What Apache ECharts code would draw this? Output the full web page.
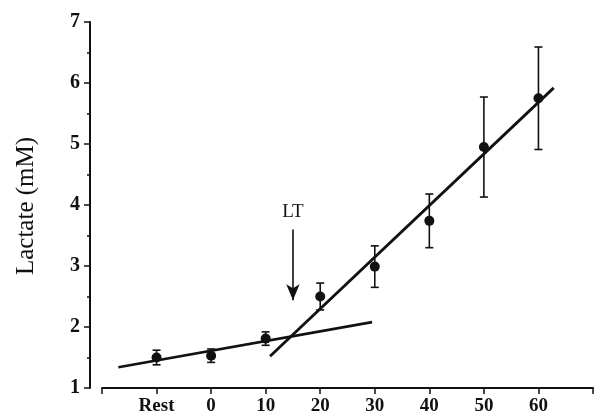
<!DOCTYPE html>
<html>
<head>
<meta charset="utf-8">
<script src="https://cdn.jsdelivr.net/npm/echarts@6/dist/echarts.min.js"></script>
<style>
  html, body { margin: 0; padding: 0; background: #fff; }
  #chart { width: 597px; height: 420px; }
</style>
</head>
<body>
<div id="chart"></div>
<script>
// x positions (Rest is plotted one step before 0)
const stageX = [-10, 0, 10, 20, 30, 40, 50, 60];
const stageLabels = ['Rest', '0', '10', '20', '30', '40', '50', '60'];
// mean lactate (mM) and error (+/-)
const lactateMean = [1.5, 1.53, 1.81, 2.5, 2.99, 3.74, 4.95, 5.75];
const lactateErr = [0.12, 0.11, 0.11, 0.22, 0.34, 0.44, 0.82, 0.84];
// fitted lines, end points [x, y]
const lowFit = [[-17, 1.34], [29.5, 2.08]];
const highFit = [[10.8, 1.52], [62.8, 5.92]];
// lactate threshold arrow
const ltX = 15;
const ltArrow = [3.6, 2.44];
const ltLabelY = 3.88;

const chartDom = document.getElementById('chart');
const myChart = echarts.init(chartDom);

const font = 'Liberation Serif, Times New Roman, serif';

const points = stageX.map((x, i) => [x, lactateMean[i], lactateErr[i]]);

const option = {
    animation: false,
    backgroundColor: '#fff',
    grid: { left: 102, right: 4, top: 22, bottom: 32 },
    xAxis: {
        type: 'value',
        min: -20,
        max: 70,
        interval: 10,
        axisLine: { onZero: false, lineStyle: { color: '#111', width: 2 } },
        axisTick: { length: 6, lineStyle: { color: '#111', width: 1.5 } },
        splitLine: { show: false },
        axisLabel: {
            margin: 9,
            color: '#111',
            fontFamily: font,
            fontWeight: 'bold',
            fontSize: 19,
            formatter: (v) => {
                const i = stageX.indexOf(v);
                return i >= 0 ? stageLabels[i] : '';
            }
        }
    },
    yAxis: {
        type: 'value',
        min: 1,
        max: 7,
        interval: 1,
        offset: 12,
        axisLine: { show: true, onZero: false, lineStyle: { color: '#111', width: 2 } },
        axisTick: { length: 6, lineStyle: { color: '#111', width: 1.5 } },
        minorTick: { show: true, splitNumber: 2, length: 3, lineStyle: { color: '#111', width: 1.5 } },
        splitLine: { show: false },
        axisLabel: {
            margin: 10,
            color: '#111',
            fontFamily: font,
            fontWeight: 'bold',
            fontSize: 20
        }
    },
    graphic: [{
        type: 'text',
        rotation: Math.PI / 2,
        position: [26, 206],
        style: {
            text: 'Lactate (mM)',
            fontFamily: font,
            fontSize: 25,
            fill: '#111',
            align: 'center',
            verticalAlign: 'middle'
        }
    }],
    series: [
        {
            type: 'custom',
            data: points,
            renderItem: (params, api) => {
                const x = api.value(0), y = api.value(1), e = api.value(2);
                const top = api.coord([x, y + e]);
                const bot = api.coord([x, y - e]);
                const w = 4;
                const st = { stroke: '#111', lineWidth: 1.6 };
                return {
                    type: 'group',
                    children: [
                        { type: 'line', shape: { x1: top[0], y1: top[1], x2: bot[0], y2: bot[1] }, style: st },
                        { type: 'line', shape: { x1: top[0] - w, y1: top[1], x2: top[0] + w, y2: top[1] }, style: st },
                        { type: 'line', shape: { x1: bot[0] - w, y1: bot[1], x2: bot[0] + w, y2: bot[1] }, style: st }
                    ]
                };
            },
            z: 2
        },
        {
            type: 'line',
            data: lowFit,
            symbol: 'none',
            lineStyle: { color: '#111', width: 2.6 },
            z: 3
        },
        {
            type: 'line',
            data: highFit,
            symbol: 'none',
            lineStyle: { color: '#111', width: 2.8 },
            z: 3
        },
        {
            type: 'scatter',
            data: points.map(p => [p[0], p[1]]),
            symbolSize: 10,
            itemStyle: { color: '#111', opacity: 1 },
            z: 4
        },
        {
            type: 'scatter',
            data: [[ltX, ltLabelY]],
            symbolSize: 1,
            itemStyle: { color: '#fff', opacity: 0 },
            label: {
                show: true,
                position: 'inside',
                formatter: 'LT',
                color: '#111',
                opacity: 1,
                fontFamily: font,
                fontSize: 19
            },
            markLine: {
                silent: true,
                symbol: ['none', 'arrow'],
                symbolSize: [10, 16],
                label: { show: false },
                lineStyle: { color: '#111', width: 1.6, type: 'solid', opacity: 1 },
                data: [[{ coord: [ltX, ltArrow[0]] }, { coord: [ltX, ltArrow[1]] }]]
            },
            z: 5
        }
    ]
};

myChart.setOption(option);
</script>
</body>
</html>
